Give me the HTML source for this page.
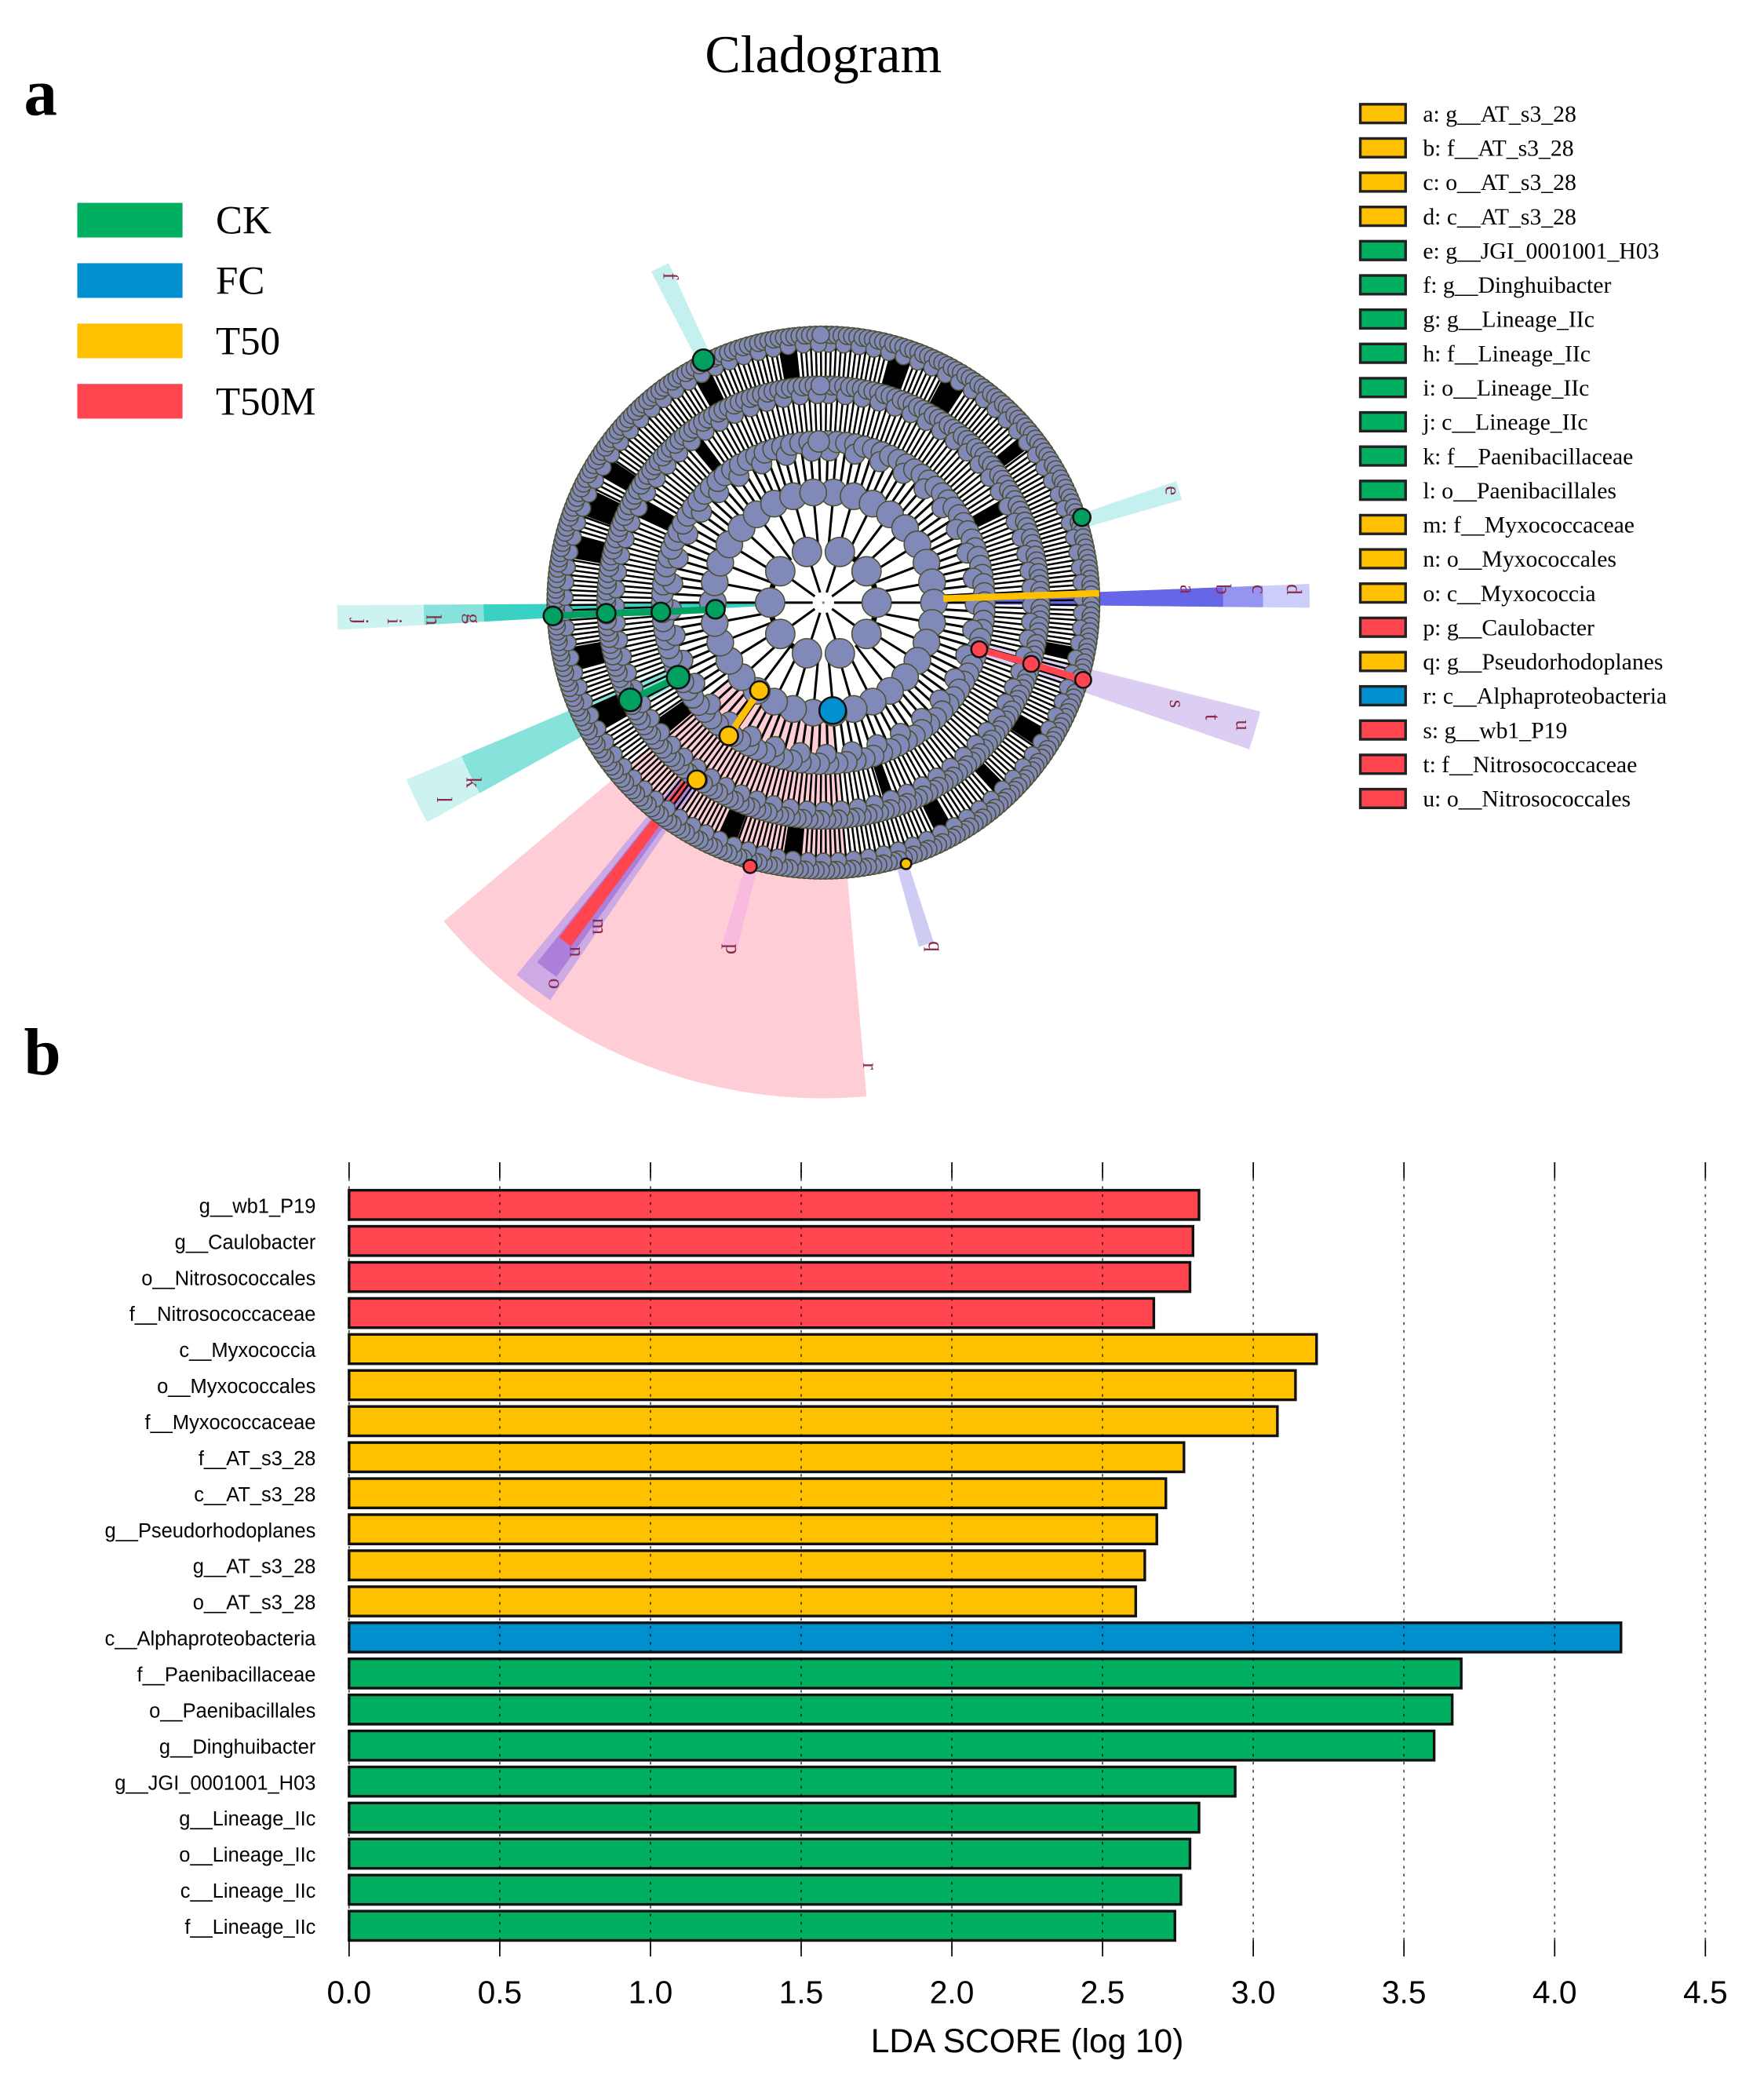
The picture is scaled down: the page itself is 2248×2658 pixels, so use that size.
<!DOCTYPE html>
<html><head><meta charset="utf-8"><style>
html,body{margin:0;padding:0;background:#fff;}
svg{display:block;}
</style></head><body>
<svg id="fig" width="2248" height="2658" viewBox="0 0 1324 1565" xmlns="http://www.w3.org/2000/svg">
<rect x="0" y="0" width="1324" height="1565" fill="#fff"/>
<text x="618" y="54" font-family="Liberation Serif, serif" font-size="40" text-anchor="middle">Cladogram</text>
<text x="18" y="86" font-family="Liberation Serif, serif" font-size="50" font-weight="bold">a</text>
<text x="18" y="806" font-family="Liberation Serif, serif" font-size="50" font-weight="bold">b</text>
<g id="groupLegend"></g>
<g id="clade"></g>
<g id="keyLegend"></g>
<g id="bars"></g>
</svg>
<script>
const NS="http://www.w3.org/2000/svg";
function mk(tag,attrs,parent){const e=document.createElementNS(NS,tag);for(const k in attrs)e.setAttribute(k,attrs[k]);parent.appendChild(e);return e;}

// ---- data ----
const groups=["CK","FC","T50","T50M"];
const groupColors=["#00b060","#0090d0","#ffc000","#ff4650"];
const keyLabels=["a: g__AT_s3_28","b: f__AT_s3_28","c: o__AT_s3_28","d: c__AT_s3_28","e: g__JGI_0001001_H03","f: g__Dinghuibacter","g: g__Lineage_IIc","h: f__Lineage_IIc","i: o__Lineage_IIc","j: c__Lineage_IIc","k: f__Paenibacillaceae","l: o__Paenibacillales","m: f__Myxococcaceae","n: o__Myxococcales","o: c__Myxococcia","p: g__Caulobacter","q: g__Pseudorhodoplanes","r: c__Alphaproteobacteria","s: g__wb1_P19","t: f__Nitrosococcaceae","u: o__Nitrosococcales"];
const keyGroups=[2,2,2,2,0,0,0,0,0,0,0,0,2,2,2,3,2,1,3,3,3];
const categories=["g__wb1_P19","g__Caulobacter","o__Nitrosococcales","f__Nitrosococcaceae","c__Myxococcia","o__Myxococcales","f__Myxococcaceae","f__AT_s3_28","c__AT_s3_28","g__Pseudorhodoplanes","g__AT_s3_28","o__AT_s3_28","c__Alphaproteobacteria","f__Paenibacillaceae","o__Paenibacillales","g__Dinghuibacter","g__JGI_0001001_H03","g__Lineage_IIc","o__Lineage_IIc","c__Lineage_IIc","f__Lineage_IIc"];
const ldaValues=[2.82,2.80,2.79,2.67,3.21,3.14,3.08,2.77,2.71,2.68,2.64,2.61,4.22,3.69,3.66,3.60,2.94,2.82,2.79,2.76,2.74];
const barGroups=[3,3,3,3,2,2,2,2,2,2,2,2,1,0,0,0,0,0,0,0,0];
const xTicks=[0.0,0.5,1.0,1.5,2.0,2.5,3.0,3.5,4.0,4.5];
const xTickLabels=["0.0","0.5","1.0","1.5","2.0","2.5","3.0","3.5","4.0","4.5"];

// ---- group legend ----
const gl=document.getElementById('groupLegend');
groups.forEach((g,i)=>{
  const y=152+i*45.3;
  const r=mk('rect',{x:58,y:y,width:79,height:26,fill:groupColors[i]},gl);
  
  
  const t=mk('text',{x:162,y:y+23,'font-family':'Liberation Serif, serif','font-size':30},gl);
  t.textContent=g;
  
  
});

// ---- key legend ----
const kl=document.getElementById('keyLegend');
keyLabels.forEach((s,i)=>{
  const y=85+i*25.7;
  const r=mk('rect',{x:1021,y:y-7,width:34,height:14,fill:groupColors[keyGroups[i]],stroke:'#222',"stroke-width":2},kl);
  
  
  const t=mk('text',{x:1068,y:y+6,'font-family':'Liberation Serif, serif','font-size':17.5},kl);
  t.textContent=s;
  
  
});

// ---- cladogram ----
const cg=document.getElementById('clade');
const CX=618,CY=452;
function pol(r,a){const t=a*Math.PI/180;return [CX+r*Math.cos(t),CY+r*Math.sin(t)];}
function wedge(r0,r1,a0,a1,fill,op){
  const p0=pol(r0,a0),p1=pol(r1,a0),p2=pol(r1,a1),p3=pol(r0,a1);
  const large=(a1-a0)>180?1:0;
  const d=`M${p0[0]},${p0[1]}L${p1[0]},${p1[1]}A${r1},${r1} 0 ${large} 1 ${p2[0]},${p2[1]}L${p3[0]},${p3[1]}A${r0},${r0} 0 ${large} 0 ${p0[0]},${p0[1]}Z`;
  const w=mk('path',{d:d,fill:fill,opacity:op},cg);
  
  
  return w;
}
wedge(88,372,85,140,'#ffc0cb',0.8);
wedge(150,362,124.5,129.5,'#c9a6e6',0.9);
wedge(150,345,125.5,128.5,'#a97ad8',0.9);
wedge(170,320,126.3,128.3,'#ff4650',1);
wedge(200,268,104,106.5,'#f7b8e0',0.9);
wedge(200,268,72,74.5,'#c9c6f2',0.9);
wedge(120,338,14,19,'#d8c8f2',0.9);
wedge(120,365,-2.2,0.6,'#c8c8f8',0.9);
wedge(120,330,-2.2,0.6,'#8f8ff0',0.9);
wedge(120,300,-2.2,0.6,'#6060e8',0.9);
wedge(200,280,-19,-16,'#bfeeee',0.9);
wedge(200,280,-117.5,-114.5,'#bfeeee',0.9);
wedge(40,365,176.8,179.7,'#c6f2ee',0.9);
wedge(40,300,176.8,179.7,'#7fe0d8',0.9);
wedge(40,255,176.8,179.7,'#30cfc0',0.9);
wedge(120,340,151,157,'#c6f2ee',0.9);
wedge(120,295,151,157,'#7fe0d8',0.9);
const letters=[["r",648,800],["o",412,738],["n",428,714],["m",445,695],["p",545,712],["q",697,710],["s",878,528],["t",905,538],["u",928,544],["a",886,442],["b",913,442],["c",940,442],["d",966,442],["e",875,368],["f",498,207],["g",350,464],["h",320,465],["i",291,466],["j",266,466],["k",350,587],["l",328,600]];
letters.forEach(l=>{const t=mk('text',{x:l[1],y:l[2],'font-family':'Liberation Serif, serif','font-size':16,fill:'#8b2a4a','text-anchor':'middle',transform:`rotate(90 ${l[1]} ${l[2]})`},cg);t.textContent=l[0];
 
 });
const rings=[40,83,121,163,201];
const counts=[10,34,110,230,320];
const nodeR=[11,10,8,7,6.5];
for(let k=0;k<rings.length;k++){
  const n=counts[k];
  for(let i=0;i<n;i++){
    const a=-90+360*(i+0.5)/n;
    const rin=k==0?8:rings[k-1];
    const p0=pol(rin,a),p1=pol(rings[k],a);
    mk('line',{x1:p0[0],y1:p0[1],x2:p1[0],y2:p1[1],stroke:'#000','stroke-width':k>=3?1.5:1.8},cg);
  }
}
[[40,-60,30],[40,120,200],[83,-100,-40],[83,60,110],[121,200,240],[163,-30,-10],[163,120,150]].forEach(a=>{
  const p0=pol(a[0],a[1]),p1=pol(a[0],a[2]);
  mk('path',{d:`M${p0[0]},${p0[1]}A${a[0]},${a[0]} 0 0 1 ${p1[0]},${p1[1]}`,fill:'none',stroke:'#000','stroke-width':4},cg);
});
[[-75,-70],[-62,-57],[-100,-96],[-120,-116],[150,156],[95,99],[60,64],[30,34],[190,195],[200,206],[-40,-37],[110,114],[165,170],[-150,-146],[10,13],[45,48]].forEach(a=>{
  wedge(163,201,a[0],a[1],'#000',1);
});
[[-30,-26],[140,145],[70,73],[-130,-127],[205,210]].forEach(a=>{wedge(121,163,a[0],a[1],'#000',1);});
for(let k=0;k<rings.length;k++){
  const n=counts[k];
  for(let i=0;i<n;i++){
    const a=-90+360*(i+0.5)/n;
    const p=pol(rings[k],a);
    mk('circle',{cx:p[0],cy:p[1],r:nodeR[k],fill:'#8189b9',stroke:'#4d5030','stroke-width':0.9},cg);
    if(k>=2 && i%3==0){
      const q=pol(rings[k]-7,a+0.6);
      mk('circle',{cx:q[0],cy:q[1],r:nodeR[k]-0.5,fill:'#8189b9',stroke:'#4d5030','stroke-width':0.9},cg);
    }
  }
}
function hl(pts,color,r){
  for(let i=1;i<pts.length;i++)mk('line',{x1:pts[i-1][0],y1:pts[i-1][1],x2:pts[i][0],y2:pts[i][1],stroke:color,'stroke-width':5},cg);
  pts.forEach(p=>{const c=mk('circle',{cx:p[0],cy:p[1],r:r,fill:color,stroke:'#111','stroke-width':1.5},cg);
   
   });
}
hl([[537,457],[496,459],[455,460],[415,462]],'#00a060',7);
hl([[509,508],[473,525]],'#00a060',8.5);
hl([[528,270]],'#00a060',8);
hl([[812,388]],'#00a060',6.5);
hl([[570,518],[547,552]],'#ffc000',7);
hl([[523,585]],'#ffc000',7);
mk('line',{x1:708,y1:449,x2:825,y2:445,stroke:'#ffc000','stroke-width':5},cg);
hl([[680,648]],'#ffc000',4);
hl([[735,487],[774,498],[813,510]],'#ff4650',6);
hl([[563,650]],'#ff4650',5);
hl([[625,533]],'#0090d0',10);
mk('circle',{cx:CX,cy:CY,r:1,fill:'#888'},cg);

// ---- bar chart ----
const bg=document.getElementById('bars');
const X0=262,X1=1280,VMAX=4.5;
function xs(v){return X0+(X1-X0)*v/VMAX;}
const Y0=904,DY=27.05,BH=22,TOP=878,BOT=1462;
categories.forEach((c,i)=>{
  const yc=Y0+i*DY;
  const r=mk('rect',{x:xs(0),y:yc-BH/2,width:xs(ldaValues[i])-xs(0),height:BH,fill:groupColors[barGroups[i]],stroke:'#111','stroke-width':2},bg);
  
  
  const t=mk('text',{x:237,y:yc+6,'font-family':'Liberation Sans Narrow, Liberation Sans, sans-serif','font-size':15,'text-anchor':'end'},bg);
  t.textContent=c;
  
  
});
xTicks.forEach((v,i)=>{
  const x=xs(v);
  const g=mk('line',{x1:x,y1:TOP,x2:x,y2:BOT,stroke:'#000','stroke-width':1,'stroke-dasharray':'2,4',opacity:0.7},bg);
  
  
  mk('line',{x1:x,y1:TOP-6,x2:x,y2:TOP+6,stroke:'#000','stroke-width':1},bg);
  mk('line',{x1:x,y1:BOT-6,x2:x,y2:BOT+6,stroke:'#000','stroke-width':1},bg);
  const t=mk('text',{x:x,y:1503,'font-family':'Liberation Sans, sans-serif','font-size':24,'text-anchor':'middle'},bg);
  t.textContent=xTickLabels[i];
  
  
});
const xt=mk('text',{x:771,y:1540,'font-family':'Liberation Sans, sans-serif','font-size':25,'text-anchor':'middle'},bg);
xt.textContent="LDA SCORE (log 10)";


</script>
</body></html>
